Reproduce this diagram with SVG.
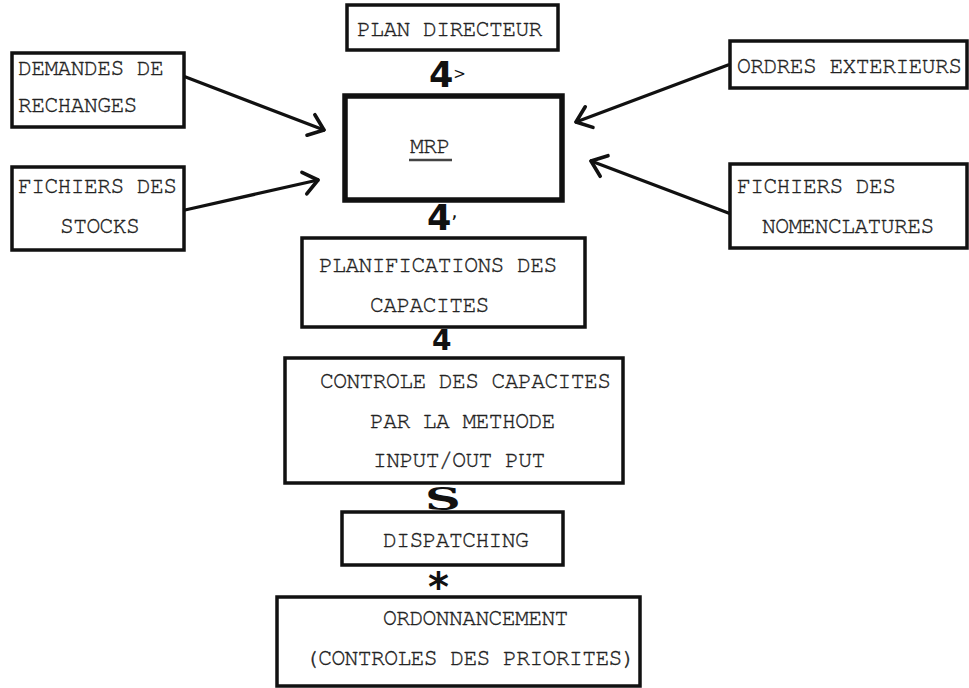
<svg xmlns="http://www.w3.org/2000/svg" width="969" height="688" viewBox="0 0 969 688">
<defs>
<style>
.box{fill:#fff;stroke:#111;stroke-width:3.5}
.thick{stroke-width:5.5}
.t{font-family:"Nimbus Mono PS","FreeMono","Courier","Liberation Mono",monospace;font-size:23px;letter-spacing:-0.6px;fill:#222;stroke:#222;stroke-width:0.35}
.c{stroke:#111;stroke-width:3.2;fill:none;stroke-linecap:round}
.g{font-family:"DejaVu Sans","Liberation Sans",sans-serif;font-weight:bold;fill:#111}
</style>
<marker id="ah" markerUnits="userSpaceOnUse" markerWidth="30" markerHeight="30" refX="0" refY="0" viewBox="-20 -15 25 30" orient="auto" overflow="visible">
<path d="M-14,-11 L0,0 L-14,11" fill="none" stroke="#111" stroke-width="3.6" stroke-linecap="round" stroke-linejoin="round"/>
</marker>
</defs>
<rect width="969" height="688" fill="#fff"/>
<g id="connectors">
<line class="c" x1="183" y1="76" x2="324" y2="130" marker-end="url(#ah)"/>
<line class="c" x1="185" y1="210" x2="318" y2="180" marker-end="url(#ah)"/>
<line class="c" x1="728" y1="65" x2="576" y2="122" marker-end="url(#ah)"/>
<line class="c" x1="731" y1="214" x2="591" y2="161" marker-end="url(#ah)"/>
<text class="g" x="429" y="87" font-size="35">4<tspan font-size="15" font-weight="normal" dy="-8">&gt;</tspan></text>
<text class="g" x="427" y="230" font-size="35">4<tspan font-size="20" font-weight="normal" dy="-12">,</tspan></text>
<text class="g" x="432" y="350" font-size="28">4</text>
<text class="g" x="0" y="0" font-size="31" transform="translate(425,510) scale(1.6,1)" style="font-family:'DejaVu Serif',serif">S</text>
<text class="g" x="428" y="601" font-size="40">*</text>
</g>
<g id="plan-directeur">
<rect class="box" x="347" y="5" width="211" height="45"/>
<text class="t" x="357" y="36">PLAN DIRECTEUR</text>
</g>
<g id="demandes">
<rect class="box" x="12" y="53" width="172" height="74"/>
<text class="t" x="18" y="75">DEMANDES DE</text>
<text class="t" x="18" y="112">RECHANGES</text>
</g>
<g id="stocks">
<rect class="box" x="12" y="167" width="172" height="83"/>
<text class="t" x="18" y="193">FICHIERS DES</text>
<text class="t" x="60" y="233">STOCKS</text>
</g>
<g id="mrp">
<rect class="box thick" x="345" y="96" width="217" height="104"/>
<text class="t" x="410" y="153">MRP</text>
<line x1="409" y1="160" x2="452" y2="160" stroke="#444" stroke-width="2.5"/>
</g>
<g id="ordres">
<rect class="box" x="730" y="41" width="237" height="47"/>
<text class="t" x="737" y="73">ORDRES EXTERIEURS</text>
</g>
<g id="nomenclatures">
<rect class="box" x="730" y="164" width="237" height="84"/>
<text class="t" x="737" y="193">FICHIERS DES</text>
<text class="t" x="762" y="233">NOMENCLATURES</text>
</g>
<g id="planifications">
<rect class="box" x="302" y="238" width="283" height="89"/>
<text class="t" x="319" y="272">PLANIFICATIONS DES</text>
<text class="t" x="370" y="312">CAPACITES</text>
</g>
<g id="controle">
<rect class="box" x="285" y="358" width="338" height="125"/>
<text class="t" x="320" y="388">CONTROLE DES CAPACITES</text>
<text class="t" x="370" y="428">PAR LA METHODE</text>
<text class="t" x="373" y="467">INPUT/OUT PUT</text>
</g>
<g id="dispatching">
<rect class="box" x="342" y="512" width="221" height="53"/>
<text class="t" x="383" y="547">DISPATCHING</text>
</g>
<g id="ordonnancement">
<rect class="box" x="277" y="597" width="363" height="89"/>
<text class="t" x="383" y="625">ORDONNANCEMENT</text>
<text class="t" x="305" y="665">(CONTROLES DES PRIORITES)</text>
</g>
</svg>
